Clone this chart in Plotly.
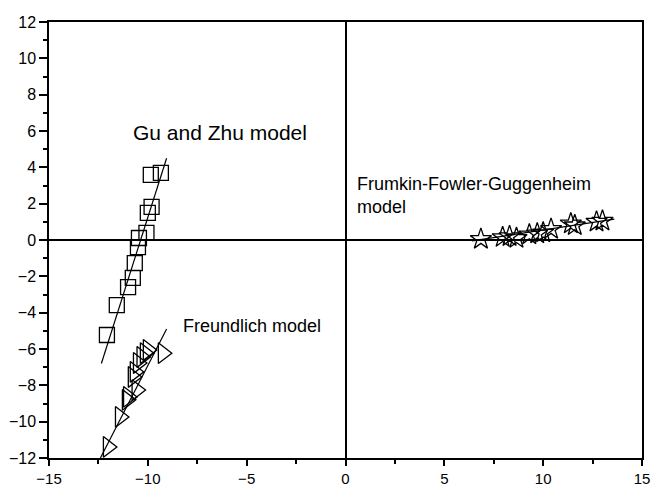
import numpy as np
import plotly.graph_objects as go

# Gu and Zhu model (open squares)
gz_x = [-9.85, -9.34, -9.81, -10.0, -10.07, -10.45, -10.5, -10.66, -10.76, -11.0, -11.57, -12.07]
gz_y = [3.58, 3.69, 1.82, 1.49, 0.39, 0.11, -0.39, -1.27, -2.09, -2.59, -3.58, -5.23]
gz_fit_x = [-12.35, -9.05]
gz_fit_y = [-6.8, 4.5]

# Freundlich model (open right triangles)
fr_x = [-9.24, -10.0, -10.15, -10.32, -10.5, -10.66, -10.76, -10.57, -11.0, -11.06, -11.41, -12.02]
fr_y = [-6.23, -6.05, -6.23, -6.44, -6.77, -7.26, -7.54, -8.26, -8.64, -8.8, -9.74, -11.39]
fr_fit_x = [-12.4, -9.05]
fr_fit_y = [-12.0, -4.9]

# Frumkin-Fowler-Guggenheim model (open stars)
ffg_x = [6.85, 7.95, 8.3, 8.65, 9.3, 9.7, 10.0, 10.4, 11.4, 11.6, 12.7, 13.0]
ffg_y = [0.05, 0.15, 0.2, 0.1, 0.3, 0.35, 0.4, 0.6, 0.9, 0.8, 1.0, 1.05]
ffg_fit_x = [6.4, 13.6]
ffg_fit_y = [-0.05, 1.15]

x_ticks = [-15, -10, -5, 0, 5, 10, 15]
y_ticks = [-12, -10, -8, -6, -4, -2, 0, 2, 4, 6, 8, 10, 12]

fig = go.Figure()

def fit_line(xs, ys):
    fig.add_trace(go.Scatter(x=xs, y=ys, mode="lines",
                             line=dict(color="black", width=1.2),
                             showlegend=False, hoverinfo="skip"))

def points(xs, ys, symbol, size):
    fig.add_trace(go.Scatter(x=xs, y=ys, mode="markers",
                             marker=dict(symbol=symbol, size=size, color="black",
                                         line=dict(color="black", width=1.3)),
                             showlegend=False))

points(gz_x, gz_y, "square-open", 15)
fit_line(gz_fit_x, gz_fit_y)
points(fr_x, fr_y, "triangle-right-open", 18)
fit_line(fr_fit_x, fr_fit_y)
points(ffg_x, ffg_y, "star-open", 16)
fit_line(ffg_fit_x, ffg_fit_y)

font_main = "Liberation Sans, Arial, sans-serif"

fig.add_annotation(x=-6.35, y=5.94, text="Gu and Zhu model", showarrow=False,
                   font=dict(size=21, color="black", family=font_main))
fig.add_annotation(x=0.5, y=2.45, text="Frumkin-Fowler-Guggenheim<br>model", showarrow=False,
                   xanchor="left", align="left",
                   font=dict(size=18, color="black", family=font_main))
fig.add_annotation(x=-8.3, y=-4.73, text="Freundlich model", showarrow=False,
                   xanchor="left",
                   font=dict(size=18, color="black", family=font_main))

axis_common = dict(
    showline=True, linecolor="black", linewidth=1.5, mirror=True,
    ticks="outside", tickwidth=1.5, tickcolor="black",
    showgrid=False, zeroline=True, zerolinecolor="black", zerolinewidth=2,
    automargin=False,
)

fig.update_xaxes(range=[-15, 15], tickvals=x_ticks, ticklen=6,
                 tickfont=dict(size=15, color="black", family=font_main),
                 minor=dict(ticks="outside", ticklen=4, tickwidth=1.5, tickcolor="black", dtick=2.5, tick0=0),
                 **axis_common)
fig.update_yaxes(range=[-12, 12], tickvals=y_ticks, ticklen=8,
                 tickfont=dict(size=16, color="black", family=font_main),
                 minor=dict(ticks="outside", ticklen=4, tickwidth=1.5, tickcolor="black", dtick=1, tick0=0),
                 **axis_common)

fig.update_layout(
    width=652, height=488,
    margin=dict(l=49, r=10, t=22, b=30),
    plot_bgcolor="white", paper_bgcolor="white",
    font=dict(family=font_main, color="black"),
)

fig.write_html("out.html")
